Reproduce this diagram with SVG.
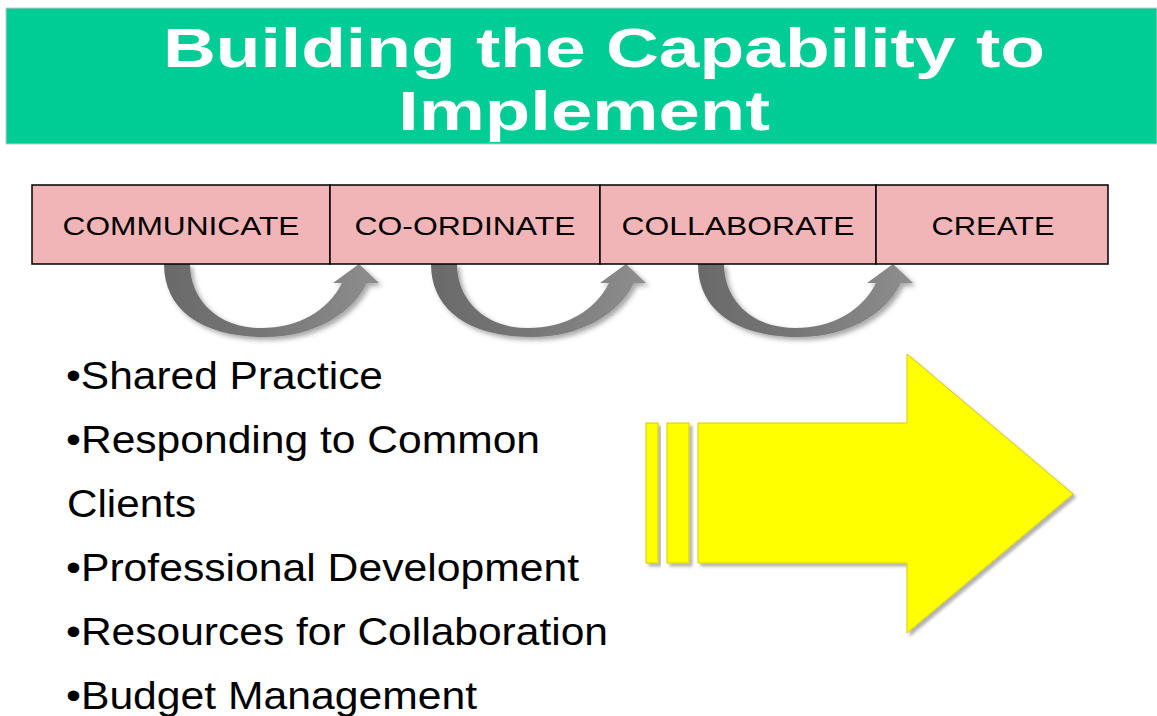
<svg xmlns="http://www.w3.org/2000/svg" width="1157" height="716" viewBox="0 0 1157 716">
<defs>
<style>
.title{font-family:"Liberation Sans",Arial,sans-serif;font-weight:bold;font-size:56px;fill:#fff}
.box{fill:#F2B5B7;stroke:#000;stroke-width:1.5}
.lbl{font-family:"Liberation Sans",Arial,sans-serif;font-size:25.5px;fill:#000;text-anchor:middle}
.bul{font-family:"Liberation Sans",Arial,sans-serif;font-size:38px;fill:#000}
.curve{fill:url(#gg);filter:url(#sh)}
.yel{fill:#FFFF00;stroke:#D8CC00;stroke-width:1;filter:url(#sh2)}
</style>
<linearGradient id="gg" x1="0" y1="0" x2="1" y2="0">
<stop offset="0" stop-color="#6A6A6A"/>
<stop offset="0.45" stop-color="#767676"/>
<stop offset="1" stop-color="#8E8E8E"/>
</linearGradient>
<filter id="sh" x="-20%" y="-20%" width="150%" height="150%">
<feGaussianBlur in="SourceAlpha" stdDeviation="2.5"/>
<feOffset dx="3" dy="3" result="b"/>
<feFlood flood-color="#000" flood-opacity="0.35"/>
<feComposite in2="b" operator="in"/>
<feMerge><feMergeNode/><feMergeNode in="SourceGraphic"/></feMerge>
</filter>
<filter id="sh2" x="-10%" y="-10%" width="130%" height="130%">
<feGaussianBlur in="SourceAlpha" stdDeviation="1.5"/>
<feOffset dx="3" dy="3" result="b"/>
<feFlood flood-color="#000" flood-opacity="0.3"/>
<feComposite in2="b" operator="in"/>
<feMerge><feMergeNode/><feMergeNode in="SourceGraphic"/></feMerge>
</filter>
<path id="ca" d="M0,0 C0,46 38,73 101,73 C150,73 188,50 203,19 L215,19 L195,0 L169,19 L178,19 C164,47 134,64 97,64 C54,64 26,36 26,0 Z"/>
</defs>
<rect width="1157" height="716" fill="#fff"/>
<g id="banner">
<rect x="6" y="8" width="1151" height="136" fill="#00CC96" stroke="#C8C8C8" stroke-width="1"/>
<text class="title" x="163" y="67" textLength="882" lengthAdjust="spacingAndGlyphs">Building the Capability to</text>
<text class="title" x="398" y="130" textLength="372" lengthAdjust="spacingAndGlyphs">Implement</text>
</g>
<g id="connectors">
<use href="#ca" class="curve" x="164" y="264"/>
<use href="#ca" class="curve" x="431" y="264"/>
<use href="#ca" class="curve" x="698" y="264"/>
</g>
<g id="node-communicate">
<rect class="box" x="32" y="185" width="298" height="79"/>
<text class="lbl" x="181" y="235" textLength="237" lengthAdjust="spacingAndGlyphs">COMMUNICATE</text>
</g>
<g id="node-coordinate">
<rect class="box" x="330" y="185" width="270" height="79"/>
<text class="lbl" x="465" y="235" textLength="221" lengthAdjust="spacingAndGlyphs">CO-ORDINATE</text>
</g>
<g id="node-collaborate">
<rect class="box" x="600" y="185" width="276" height="79"/>
<text class="lbl" x="738" y="235" textLength="233" lengthAdjust="spacingAndGlyphs">COLLABORATE</text>
</g>
<g id="node-create">
<rect class="box" x="876" y="185" width="232" height="79"/>
<text class="lbl" x="993" y="235" textLength="123" lengthAdjust="spacingAndGlyphs">CREATE</text>
</g>
<g id="bullets">
<text class="bul" x="66" y="389" textLength="317" lengthAdjust="spacingAndGlyphs">•Shared Practice</text>
<text class="bul" x="66" y="453" textLength="474" lengthAdjust="spacingAndGlyphs">•Responding to Common</text>
<text class="bul" x="67" y="517" textLength="129" lengthAdjust="spacingAndGlyphs">Clients</text>
<text class="bul" x="66" y="581" textLength="513" lengthAdjust="spacingAndGlyphs">•Professional Development</text>
<text class="bul" x="66" y="645" textLength="542" lengthAdjust="spacingAndGlyphs">•Resources for Collaboration</text>
<text class="bul" x="66" y="709" textLength="411" lengthAdjust="spacingAndGlyphs">•Budget Management</text>
</g>
<g id="big-arrow">
<rect class="yel" x="646" y="423" width="12" height="140"/>
<rect class="yel" x="667" y="423" width="22" height="140"/>
<path class="yel" d="M698,423 L907,423 L907,354 L1073,494 L907,633 L907,563 L698,563 Z"/>
</g>
</svg>
